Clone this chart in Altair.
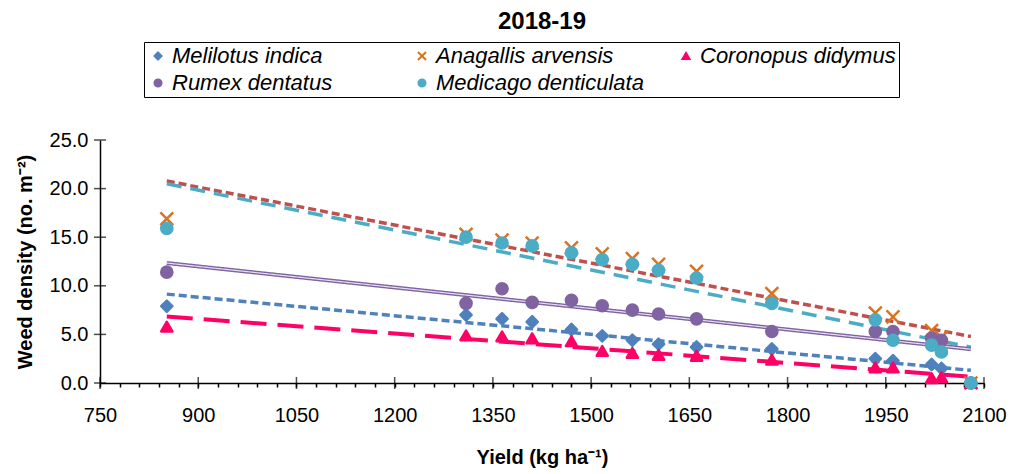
import altair as alt
import pandas as pd

FONT = "Liberation Sans"

SPECIES = ["Melilotus indica", "Anagallis arvensis", "Coronopus didymus",
           "Rumex dentatus", "Medicago denticulata"]

# grain yield of each plot (kg/ha)
yield_kg = [852, 1309, 1364, 1410, 1470, 1517, 1563, 1603, 1661,
            1776, 1934, 1961, 2020, 2035, 2080]

# weed density (no. per m2) of each species at those yields
melilotus = [7.9, 7.0, 6.6, 6.3, 5.5, 4.85, 4.4, 4.0, 3.7, 3.5, 2.5, 2.3, 1.9, 1.5, 0.0]
anagallis = [16.9, 15.3, 14.7, 14.4, 13.9, 13.3, 12.8, 12.2, 11.5, 9.2, 7.2, 6.8, 5.4, 4.7, 0.0]
coronopus = [5.8, 4.9, 4.8, 4.6, 4.3, 3.3, 3.1, 2.9, 2.8, 2.4, 1.6, 1.6, 0.5, 0.6, 0.0]
rumex = [11.4, 8.2, 9.7, 8.3, 8.5, 7.95, 7.5, 7.1, 6.6, 5.3, 5.3, 5.3, 4.6, 4.4, 0.0]
medicago = [15.9, 15.0, 14.4, 14.1, 13.4, 12.7, 12.2, 11.6, 10.8, 8.2, 6.5, 4.4, 3.9, 3.2, 0.0]

x_ticks = [750, 900, 1050, 1200, 1350, 1500, 1650, 1800, 1950, 2100]
x_minor = list(range(750, 2101, 30))
y_ticks = [0, 5, 10, 15, 20, 25]

PLOT_W, PLOT_H = 884, 243

MARKER_COLORS = ["#4F81BD", "#D9731E", "#FF0066", "#8064A2", "#4BACC6"]
MARKER_SHAPES = ["diamond", "M-1.15,-1.15L1.15,1.15M-1.15,1.15L1.15,-1.15",
                 "triangle-up", "circle", "circle"]

series = [melilotus, anagallis, coronopus, rumex, medicago]
rows = []
for name, values in zip(SPECIES, series):
    for x, y in zip(yield_kg, values):
        rows.append({"species": name, "yield": x, "density": y})
df = pd.DataFrame(rows)

X = alt.X(
    "yield:Q",
    scale=alt.Scale(domain=[750, 2100], nice=False, zero=False),
    axis=alt.Axis(
        values=x_minor, tickSize=4, tickWidth=1.5, domainWidth=1.5,
        labelExpr="datum.value % 150 === 0 ? datum.label : ''",
        format="d", labelFontSize=20, labelPadding=18, labelOverlap=False,
        labelFlush=False, title="Yield (kg ha⁻¹)", titleFontSize=20,
        titleFontWeight="bold", titlePadding=22, grid=False,
    ),
)
Y = alt.Y(
    "density:Q",
    scale=alt.Scale(domain=[0, 25], nice=False),
    axis=alt.Axis(
        values=y_ticks, format=".1f", ticks=False, tickSize=0, domainWidth=1.5,
        labelFontSize=20, labelPadding=12, title="Weed density (no. m⁻²)",
        titleFontSize=20, titleFontWeight="bold", titlePadding=14, grid=False,
    ),
)

# major ticks that cross the axis lines
x_major = alt.Chart(pd.DataFrame({"yield": x_ticks})).mark_tick(
    orient="vertical", size=12, thickness=1.5, color="black"
).encode(x=X, y=alt.value(PLOT_H))
y_major = alt.Chart(pd.DataFrame({"density": y_ticks})).mark_tick(
    orient="horizontal", size=12, thickness=1.5, color="black"
).encode(y=Y, x=alt.value(0))


def trend(name, color, dash, width):
    return (
        alt.Chart(df)
        .transform_filter(alt.datum.species == name)
        .transform_regression("yield", "density")
        .mark_line(color=color, strokeDash=dash, strokeWidth=width)
        .encode(x=X, y=Y)
    )


trends = [
    trend("Melilotus indica", "#4F81BD", [8, 4], 3.5),
    trend("Anagallis arvensis", "#C0504D", [8, 4], 3.5),
    trend("Coronopus didymus", "#FF0066", [26, 11], 4),
    trend("Medicago denticulata", "#4BACC6", [15, 9], 3.5),
    trend("Rumex dentatus", "#8064A2", [1, 0], 4),
    trend("Rumex dentatus", "#E6DDF0", [1, 0], 1.2),
]

legend = alt.Legend(
    orient="none", legendX=44, legendY=-98, title=None, columns=3,
    direction="horizontal", gridAlign="all", columnPadding=31, rowPadding=5,
    padding=3, labelFontSize=22, labelFontStyle="italic", labelFont=FONT,
    labelLimit=400, labelOffset=3, symbolSize=50, symbolStrokeWidth=2,
    strokeColor="black", fillColor="white",
)

points = alt.Chart(df).mark_point(
    filled=True, opacity=1, size=125, strokeWidth=2.5, strokeJoin="round"
).encode(
    x=X,
    y=Y,
    color=alt.Color("species:N", scale=alt.Scale(domain=SPECIES, range=MARKER_COLORS), legend=legend),
    stroke=alt.Stroke("species:N", scale=alt.Scale(domain=SPECIES, range=MARKER_COLORS), legend=legend),
    shape=alt.Shape("species:N", scale=alt.Scale(domain=SPECIES, range=MARKER_SHAPES), legend=legend),
)

chart = (
    alt.layer(x_major, y_major, *trends, points)
    .properties(
        width=PLOT_W,
        height=PLOT_H,
        title=alt.TitleParams("2018-19", fontSize=24, fontWeight="bold", font=FONT,
                              anchor="middle", color="black", offset=8),
        padding={"left": 100, "top": 140, "right": 27, "bottom": 91},
        autosize=alt.AutoSizeParams(type="none"),
    )
    .configure_view(stroke=None)
    .configure_axis(labelFont=FONT, titleFont=FONT, labelColor="black",
                    titleColor="black", domainColor="black", tickColor="black")
)

chart.save("out.html", embed_options={"renderer": "svg", "actions": False})
